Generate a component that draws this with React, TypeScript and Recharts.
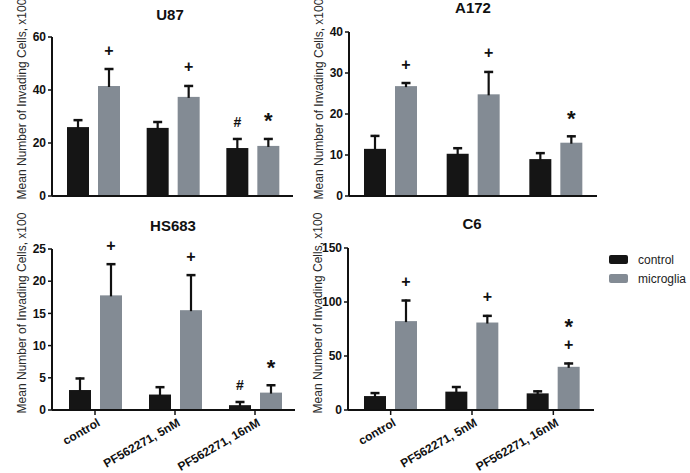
import React from "react";
import { BarChart, Bar, XAxis, YAxis } from "recharts";

const FONT = "'Liberation Sans', Arial, Helvetica, sans-serif";
const CONTROL_COLOR = "#151515";
const MICROGLIA_COLOR = "#838b94";

const groups = ["control", "PF562271, 5nM", "PF562271, 16nM"];
const seriesNames = ["control", "microglia"];

// U87
const u87Control = [26, 25.7, 18.1];
const u87ControlSem = [3, 2.6, 3.8];
const u87ControlSym = [[], [], ["#"]];
const u87Microglia = [41.5, 37.4, 18.9];
const u87MicrogliaSem = [6.8, 4.5, 3];
const u87MicrogliaSym = [["+"], ["+"], ["*"]];
const u87Ticks = [0, 20, 40, 60];

// A172
const a172Control = [11.5, 10.3, 9];
const a172ControlSem = [3.4, 1.6, 1.7];
const a172ControlSym = [[], [], []];
const a172Microglia = [26.8, 24.8, 13];
const a172MicrogliaSem = [1, 5.7, 1.8];
const a172MicrogliaSym = [["+"], ["+"], ["*"]];
const a172Ticks = [0, 10, 20, 30, 40];

// HS683
const hs683Control = [3.1, 2.4, 0.75];
const hs683ControlSem = [1.95, 1.3, 0.65];
const hs683ControlSym = [[], [], ["#"]];
const hs683Microglia = [17.8, 15.5, 2.7];
const hs683MicrogliaSem = [5, 5.6, 1.3];
const hs683MicrogliaSym = [["+"], ["+"], ["*"]];
const hs683Ticks = [0, 5, 10, 15, 20, 25];

// C6
const c6Control = [12.9, 17, 15.4];
const c6ControlSem = [3.7, 5.2, 2.8];
const c6ControlSym = [[], [], []];
const c6Microglia = [82.3, 81, 40];
const c6MicrogliaSem = [20, 7.1, 4];
const c6MicrogliaSym = [["+"], ["+"], ["+", "*"]];
const c6Ticks = [0, 50, 100, 150];

const yTitle = "Mean Number of Invading Cells, x100";

function buildRows(
  control: number[],
  controlSem: number[],
  controlSym: string[][],
  microglia: number[],
  microgliaSem: number[],
  microgliaSym: string[][]
) {
  return groups.map((name, i) => ({
    name,
    control: control[i],
    controlSem: controlSem[i],
    controlSym: controlSym[i],
    microglia: microglia[i],
    microgliaSem: microgliaSem[i],
    microgliaSym: microgliaSym[i],
  }));
}

// glyph size and how far the glyph's middle sits above its baseline
const symbolStyle: Record<string, { size: number; mid: number; gap: number }> = {
  "+": { size: 16, mid: 5.5, gap: 18 },
  "#": { size: 14, mid: 5, gap: 16 },
  "*": { size: 22, mid: 12.5, gap: 22 },
};

function BarWithError(props: any) {
  const { x, y, width, height, fill, payload, dataKey } = props;
  const value = payload[dataKey];
  const sem = payload[dataKey + "Sem"];
  const syms: string[] = payload[dataKey + "Sym"] || [];
  const perUnit = value ? height / value : 0;
  const errTop = y - sem * perUnit;
  const cx = x + width / 2;
  let level = errTop;
  return (
    <g>
      <rect x={x} y={y} width={width} height={height} fill={fill} />
      <line x1={cx} x2={cx} y1={y + 1} y2={errTop} stroke="#111" strokeWidth={2.2} />
      <line x1={cx - 4.5} x2={cx + 4.5} y1={errTop + 1} y2={errTop + 1} stroke="#111" strokeWidth={2.5} />
      {syms.map((s, i) => {
        const st = symbolStyle[s];
        level = level - (i === 0 ? st.gap : 23);
        return (
          <text
            key={i}
            x={cx}
            y={level + st.mid}
            textAnchor="middle"
            fontFamily={FONT}
            fontWeight="bold"
            fontSize={st.size}
            fill="#111"
          >
            {s}
          </text>
        );
      })}
    </g>
  );
}

function AngledTick(props: any) {
  const { x, y, payload } = props;
  return (
    <g transform={`translate(${x + 6},${y + 8})`}>
      <text
        x={0}
        y={0}
        textAnchor="end"
        transform="rotate(-30)"
        fontFamily={FONT}
        fontWeight="bold"
        fontSize={12}
        fill="#111"
      >
        {payload.value}
      </text>
    </g>
  );
}

function YTitle(props: any) {
  const vb = props.viewBox || {};
  const cx = vb.x + vb.width - 26;
  const cy = vb.y + vb.height - 97;
  return (
    <text
      x={cx}
      y={cy}
      transform={`rotate(-90, ${cx}, ${cy})`}
      textAnchor="middle"
      fontFamily={FONT}
      fontSize={12}
      fill="#2a2a2a"
    >
      {yTitle}
    </text>
  );
}

interface PanelProps {
  title: string;
  rows: any[];
  ticks: number[];
  left: number;
  top: number;
  width: number;
  height: number;
  plotLeft: number;
  plotRight: number;
  plotTop: number;
  plotBottom: number;
  padLeft: number;
  titleX: number;
  titleBaseline: number;
  showLabels: boolean;
}

function Panel(p: PanelProps) {
  const xAxisHeight = p.showLabels ? 60 : 10;
  const margin = {
    top: p.plotTop - p.top,
    right: p.left + p.width - p.plotRight,
    bottom: p.top + p.height - p.plotBottom - xAxisHeight,
    left: 0,
  };
  return (
    <>
      <div
        style={{
          position: "absolute",
          left: p.titleX - 60,
          top: p.titleBaseline - 12.7,
          width: 120,
          textAlign: "center",
          fontFamily: FONT,
          fontWeight: "bold",
          fontSize: 15,
          lineHeight: "15px",
          color: "#111",
        }}
      >
        {p.title}
      </div>
      <div style={{ position: "absolute", left: p.left, top: p.top }}>
        <BarChart width={p.width} height={p.height} data={p.rows} margin={margin} barSize={22} barGap={9}>
          <XAxis
            dataKey="name"
            height={xAxisHeight}
            padding={{ left: p.padLeft, right: 0 }}
            axisLine={{ stroke: "#111", strokeWidth: 2 }}
            tickLine={{ stroke: "#111", strokeWidth: 1.5 }}
            tickSize={5}
            interval={0}
            tick={p.showLabels ? <AngledTick /> : false}
          />
          <YAxis
            width={p.plotLeft - p.left}
            domain={[0, p.ticks[p.ticks.length - 1]]}
            ticks={p.ticks}
            interval={0}
            axisLine={{ stroke: "#111", strokeWidth: 2 }}
            tickLine={{ stroke: "#111", strokeWidth: 1.5 }}
            tickSize={4}
            tickMargin={2}
            tick={{ fontFamily: FONT, fontWeight: "bold", fontSize: 12, fill: "#111" }}
            label={{ content: (lp: any) => <YTitle {...lp} /> }}
          />
          <Bar dataKey="control" fill={CONTROL_COLOR} isAnimationActive={false} shape={<BarWithError />} />
          <Bar dataKey="microglia" fill={MICROGLIA_COLOR} isAnimationActive={false} shape={<BarWithError />} />
        </BarChart>
      </div>
    </>
  );
}

export default function App() {
  const legendColors = [CONTROL_COLOR, MICROGLIA_COLOR];
  return (
    <div style={{ position: "absolute", left: 0, top: 0, width: 690, height: 473, background: "#fff", overflow: "hidden" }}>
      <Panel
        title="U87"
        rows={buildRows(u87Control, u87ControlSem, u87ControlSym, u87Microglia, u87MicrogliaSem, u87MicrogliaSym)}
        ticks={u87Ticks}
        left={0}
        top={0}
        width={300}
        height={210}
        plotLeft={52}
        plotRight={293}
        plotTop={37}
        plotBottom={196}
        padLeft={2}
        titleX={170}
        titleBaseline={19.5}
        showLabels={false}
      />
      <Panel
        title="A172"
        rows={buildRows(a172Control, a172ControlSem, a172ControlSym, a172Microglia, a172MicrogliaSem, a172MicrogliaSym)}
        ticks={a172Ticks}
        left={300}
        top={0}
        width={305}
        height={210}
        plotLeft={349}
        plotRight={597}
        plotTop={32}
        plotBottom={196}
        padLeft={0}
        titleX={473}
        titleBaseline={13}
        showLabels={false}
      />
      <Panel
        title="HS683"
        rows={buildRows(hs683Control, hs683ControlSem, hs683ControlSym, hs683Microglia, hs683MicrogliaSem, hs683MicrogliaSym)}
        ticks={hs683Ticks}
        left={0}
        top={210}
        width={300}
        height={263}
        plotLeft={52}
        plotRight={295}
        plotTop={249}
        plotBottom={410}
        padLeft={3}
        titleX={173}
        titleBaseline={231}
        showLabels={true}
      />
      <Panel
        title="C6"
        rows={buildRows(c6Control, c6ControlSem, c6ControlSym, c6Microglia, c6MicrogliaSem, c6MicrogliaSym)}
        ticks={c6Ticks}
        left={300}
        top={210}
        width={300}
        height={263}
        plotLeft={348}
        plotRight={594}
        plotTop={248}
        plotBottom={410}
        padLeft={2}
        titleX={472}
        titleBaseline={229}
        showLabels={true}
      />
      {seriesNames.map((name, i) => (
        <div
          key={name}
          style={{
            position: "absolute",
            left: 609,
            top: 253 + i * 19,
            height: 13,
            display: "flex",
            alignItems: "center",
            fontFamily: FONT,
            fontSize: 12,
            color: "#222",
            whiteSpace: "nowrap",
          }}
        >
          <span
            style={{
              display: "inline-block",
              width: 19,
              height: 9,
              borderRadius: 2,
              background: legendColors[i],
              marginRight: 10,
            }}
          />
          {name}
        </div>
      ))}
    </div>
  );
}
